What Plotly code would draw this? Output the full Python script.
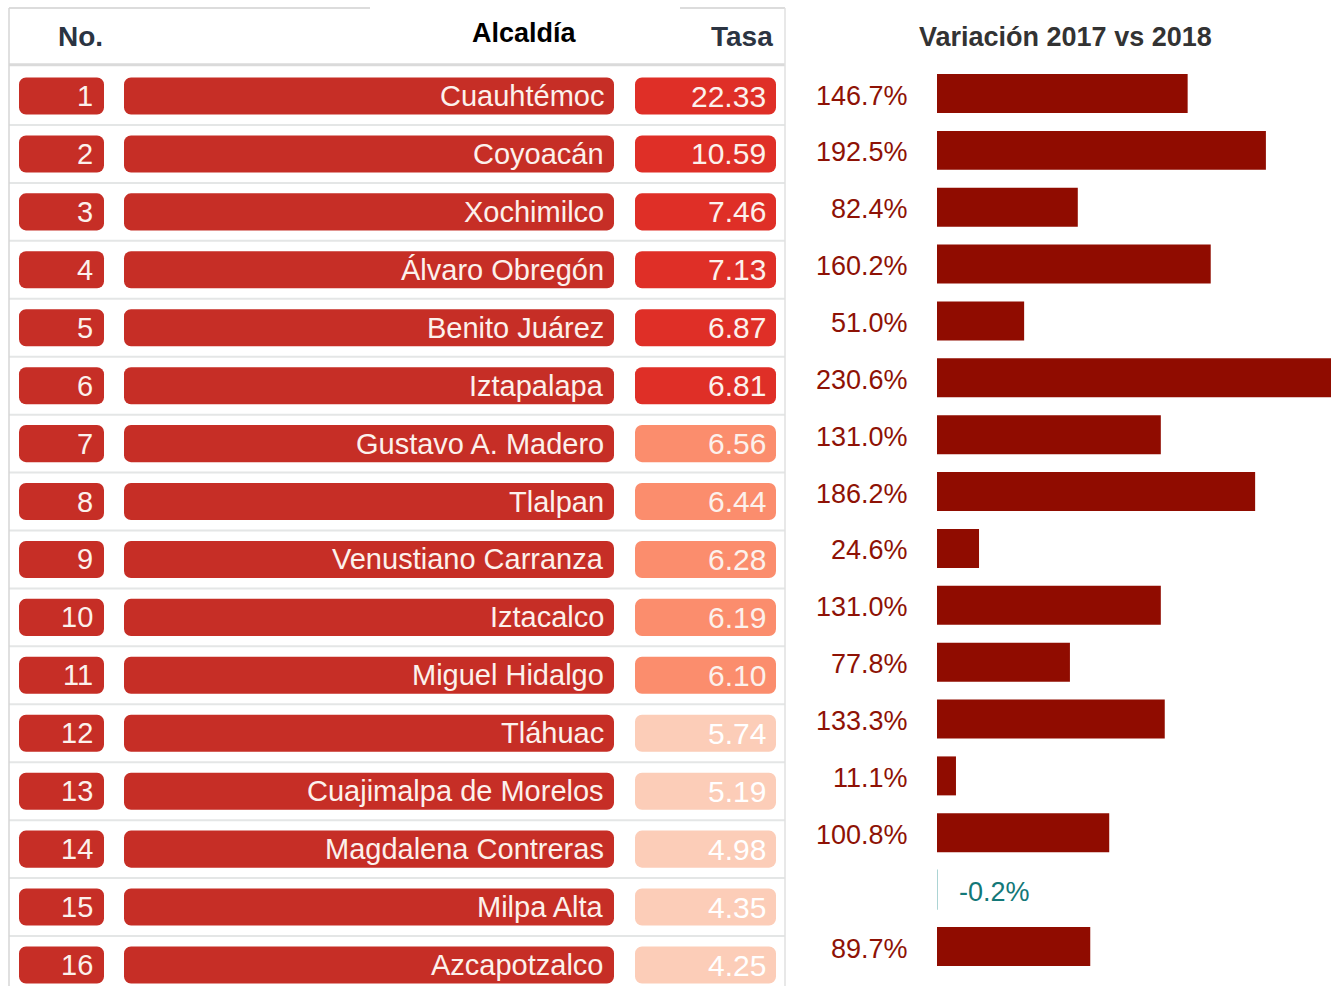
import plotly.graph_objects as go

# ---------------- data ----------------
numeros = list(range(1, 17))
alcaldias = ["Cuauhtémoc", "Coyoacán", "Xochimilco", "Álvaro Obregón", "Benito Juárez",
             "Iztapalapa", "Gustavo A. Madero", "Tlalpan", "Venustiano Carranza", "Iztacalco",
             "Miguel Hidalgo", "Tláhuac", "Cuajimalpa de Morelos", "Magdalena Contreras",
             "Milpa Alta", "Azcapotzalco"]
tasa = [22.33, 10.59, 7.46, 7.13, 6.87, 6.81, 6.56, 6.44, 6.28, 6.19, 6.10,
        5.74, 5.19, 4.98, 4.35, 4.25]
variacion = [146.7, 192.5, 82.4, 160.2, 51.0, 230.6, 131.0, 186.2, 24.6, 131.0,
             77.8, 133.3, 11.1, 100.8, -0.2, 89.7]
headers = ["No.", "Alcaldía", "Tasa"]
titulo = "Variación 2017 vs 2018"

# ---------------- style ----------------
FONT = "Liberation Sans, Arial, sans-serif"
CELL_RED = "#C62E26"
TASA_HI = "#DF2F27"
TASA_MID = "#FB8D6D"
TASA_LO = "#FCCDB8"
BAR_RED = "#900C00"
TEAL = "#137878"
TEXT_CELL = "#FCF1EC"

# the html body margin is removed below, so the figure starts at the page corner
OFF = 0
W, H = 1332 - OFF, 986 - OFF


def tasa_color(v):
    if v >= 6.7:
        return TASA_HI
    if v >= 6.0:
        return TASA_MID
    return TASA_LO


# table column geometry (units of the table x axis)
COL_NO = (19, 104)
COL_AL = (124, 614)
COL_TA = (635, 776)
CELL_H = 0.64

fig = go.Figure()

rows = numeros
for (x0, x1), colors in [(COL_NO, [CELL_RED] * len(rows)),
                         (COL_AL, [CELL_RED] * len(rows)),
                         (COL_TA, [tasa_color(v) for v in tasa])]:
    fig.add_trace(go.Bar(
        orientation="h", y=rows, x=[x1 - x0] * len(rows), base=[x0] * len(rows),
        width=CELL_H, marker=dict(color=colors, cornerradius=7, line=dict(width=0)),
        xaxis="x", yaxis="y", hoverinfo="skip", showlegend=False))

# right bar chart
line_w = [1.3 if v < 0 else 0 for v in variacion]
line_c = ["#7FBDBD" if v < 0 else BAR_RED for v in variacion]
fig.add_trace(go.Bar(
    orientation="h", y=rows, x=variacion, width=0.685,
    marker=dict(color=[TEAL if v < 0 else BAR_RED for v in variacion],
                line=dict(width=line_w, color=line_c)),
    xaxis="x2", yaxis="y2", hoverinfo="skip", showlegend=False, cliponaxis=False))

annotations = []
for r, n, a, t in zip(rows, numeros, alcaldias, tasa):
    annotations.append(dict(x=COL_NO[1] - 9, y=r, xref="x", yref="y", text=str(n),
                            xanchor="right", yanchor="middle", showarrow=False,
                            font=dict(family=FONT, size=29, color=TEXT_CELL)))
    annotations.append(dict(x=COL_AL[1] - 8, y=r, xref="x", yref="y", text=a,
                            xanchor="right", yanchor="middle", showarrow=False,
                            font=dict(family=FONT, size=29, color=TEXT_CELL)))
    annotations.append(dict(x=COL_TA[1] - 8, y=r, xref="x", yref="y", text=f"{t:.2f}",
                            xanchor="right", yanchor="middle", showarrow=False,
                            font=dict(family=FONT, size=30,
                                      color="#FFFFFF" if t < 6.0 else TEXT_CELL)))

for r, v in zip(rows, variacion):
    if v >= 0:
        annotations.append(dict(x=0, y=r, xref="x2", yref="y2", text=f"{v:.1f}%",
                                xanchor="right", yanchor="middle", xshift=-27, yshift=-2,
                                showarrow=False,
                                font=dict(family=FONT, size=27, color="#8E1205")))
    else:
        annotations.append(dict(x=0, y=r, xref="x2", yref="y2", text=f"{v:.1f}%",
                                xanchor="left", yanchor="middle", xshift=20, yshift=-2,
                                showarrow=False,
                                font=dict(family=FONT, size=27, color=TEAL)))

# headers
annotations.append(dict(x=80, y=-0.03, xref="x", yref="y", text=f"<b>{headers[0]}</b>",
                        xanchor="center", yanchor="middle", showarrow=False,
                        font=dict(family=FONT, size=28, color="#2B3442")))
annotations.append(dict(x=524, y=-0.09, xref="x", yref="y", text=f"<b>{headers[1]}</b>",
                        xanchor="center", yanchor="middle", showarrow=False,
                        font=dict(family=FONT, size=27, color="#000000")))
annotations.append(dict(x=775, y=-0.03, xref="x", yref="y", text=f"<b>{headers[2]}</b>",
                        xanchor="right", yanchor="middle", showarrow=False,
                        font=dict(family=FONT, size=28, color="#2B3442")))
annotations.append(dict(x=(1065 - OFF) / W, y=1 - (37 - OFF) / H, xref="paper", yref="paper",
                        text=f"<b>{titulo}</b>", xanchor="center", yanchor="middle",
                        showarrow=False, font=dict(family=FONT, size=27, color="#333333")))

# row spacing on the table axis and the bar axis (page pixels)
T_ROW1, T_ROWN = 96, 965
B_ROW1, B_ROWN = 93.5, 946.5
n = len(rows)
t_step = (T_ROWN - T_ROW1) / (n - 1)
b_step = (B_ROWN - B_ROW1) / (n - 1)
y_range = [n + (986 - T_ROWN) / t_step, 1 - (T_ROW1 - OFF) / t_step]
y2_range = [n + (986 - B_ROWN) / b_step, 1 - (B_ROW1 - OFF) / b_step]

# table grid lines
shapes = []
GRID = "#E4E6E6"
TOP = 1 - (T_ROW1 - 8) / t_step
for i in range(1, len(rows)):
    shapes.append(dict(type="line", xref="x", yref="y", x0=9, x1=785, y0=i + 0.5, y1=i + 0.5,
                       line=dict(color=GRID, width=2), layer="below"))
shapes.append(dict(type="line", xref="x", yref="y", x0=9, x1=785, y0=0.46, y1=0.46,
                   line=dict(color="#DADADA", width=3), layer="below"))
shapes.append(dict(type="line", xref="x", yref="y", x0=9, x1=370, y0=TOP, y1=TOP,
                   line=dict(color="#D0D0D0", width=1.5), layer="below"))
shapes.append(dict(type="line", xref="x", yref="y", x0=680, x1=785, y0=TOP, y1=TOP,
                   line=dict(color="#D0D0D0", width=1.5), layer="below"))
shapes.append(dict(type="line", xref="x", yref="y", x0=9, x1=9, y0=TOP, y1=16.4,
                   line=dict(color="#D6D6D6", width=1.5), layer="below"))
shapes.append(dict(type="line", xref="x", yref="y", x0=785, x1=785, y0=TOP, y1=16.4,
                   line=dict(color="#E0E0E0", width=1.5), layer="below"))

fig.update_layout(
    width=W, height=H,
    margin=dict(l=0, r=0, t=0, b=0),
    paper_bgcolor="white", plot_bgcolor="white",
    barmode="overlay",
    xaxis=dict(domain=[0, 800 / W], range=[OFF, 800 + OFF], visible=False, fixedrange=True),
    yaxis=dict(domain=[0, 1], range=y_range, visible=False, fixedrange=True),
    xaxis2=dict(domain=[(937 - OFF) / W, (1331 - OFF) / W], range=[0, max(variacion)],
                visible=False, anchor="y2", fixedrange=True),
    yaxis2=dict(domain=[0, 1], range=y2_range, visible=False, anchor="x2",
                fixedrange=True),
    annotations=annotations,
    shapes=shapes,
    showlegend=False,
)

fig.write_html("out.html",
               config={"displayModeBar": False},
               post_script="document.body.style.margin='0';"
                           "document.body.style.overflow='hidden';")
